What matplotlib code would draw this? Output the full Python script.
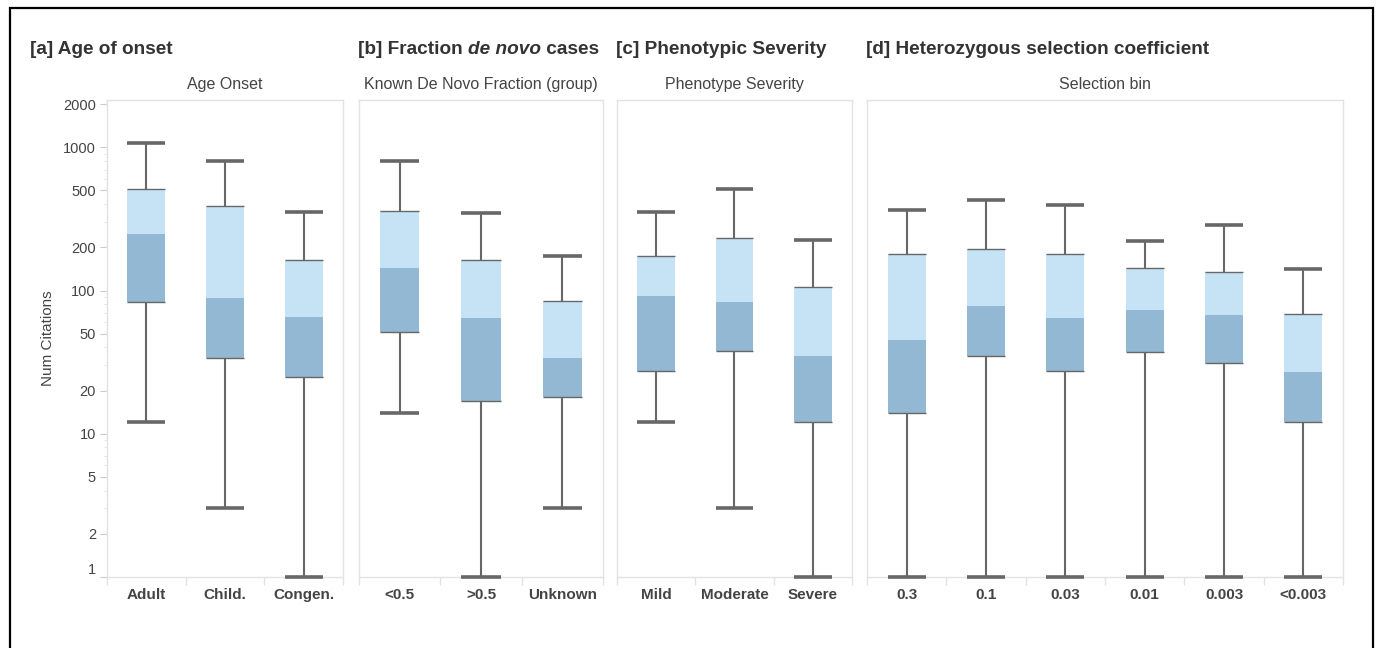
import matplotlib
matplotlib.use("Agg")
import matplotlib.pyplot as plt
from matplotlib.patches import Rectangle
from matplotlib.ticker import LogLocator, NullFormatter, FixedLocator
import numpy as np

plt.rcParams['font.family'] = ['Liberation Sans', 'DejaVu Sans']

# ---------------- data ----------------
titles_prefix = ["[a] Age of onset", "[b] Fraction ", "[c] Phenotypic Severity",
                 "[d] Heterozygous selection coefficient"]
subtitles = ["Age Onset", "Known De Novo Fraction (group)", "Phenotype Severity", "Selection bin"]

cats_a = ["Adult", "Child.", "Congen."]
low_a = [12, 3, 1]
q1_a = [83, 34, 25]
med_a = [248, 89, 65]
q3_a = [512, 387, 163]
high_a = [1070, 804, 355]

cats_b = ["<0.5", ">0.5", "Unknown"]
low_b = [14, 1, 3]
q1_b = [51, 17, 18]
med_b = [144, 64, 34]
q3_b = [359, 164, 84]
high_b = [804, 348, 173]

cats_c = ["Mild", "Moderate", "Severe"]
low_c = [12, 3, 1]
q1_c = [27.4, 38, 12]
med_c = [91, 83, 35]
q3_c = [175, 232, 106]
high_c = [355, 510, 225]

cats_d = ["0.3", "0.1", "0.03", "0.01", "0.003", "<0.003"]
low_d = [1, 1, 1, 1, 1, 1]
q1_d = [14, 35, 27.4, 37, 31, 12]
med_d = [45, 78, 64, 73, 67, 27]
q3_d = [179, 196, 179, 143, 134, 68.5]
high_d = [363, 431, 396, 222, 287, 141]

panels = [
    (cats_a, low_a, q1_a, med_a, q3_a, high_a),
    (cats_b, low_b, q1_b, med_b, q3_b, high_b),
    (cats_c, low_c, q1_c, med_c, q3_c, high_c),
    (cats_d, low_d, q1_d, med_d, q3_d, high_d),
]

# ---------------- style / layout ----------------
W, H = 1379, 648
LIGHT = "#c5e3f5"
DARK = "#92b8d3"
WHISK = "#676767"
FRAME = "#e2e2e2"
TXT = "#444444"
TITLE_C = "#333333"

panel_px = [(107, 343), (359, 603), (617, 852), (867, 1343)]
y_top, y_bot = 100.3, 576.7

fig = plt.figure(figsize=(W / 100, H / 100), dpi=100)

def fx(px):
    return px / W

def fy(py):
    return 1 - py / H

# outer border
fig.patches.append(Rectangle((fx(10), fy(660)), fx(1373) - fx(10), fy(8) - fy(660),
                             transform=fig.transFigure, fill=False, edgecolor="black",
                             linewidth=1.6, clip_on=False))

TFS = 13.7
for i, (cats, low, q1, med, q3, high) in enumerate(panels):
    n = len(cats)
    x0, x1 = panel_px[i]
    ax = fig.add_axes([fx(x0), fy(y_bot), (x1 - x0) / W, (y_bot - y_top) / H])
    ax.set_yscale("log")
    ax.set_ylim(1, 2134)
    ax.set_xlim(-0.5, n - 0.5)
    pos = np.arange(n)
    bw = 0.48
    lower_h = np.array(med) - np.array(q1)
    upper_h = np.array(q3) - np.array(med)
    ax.bar(pos, lower_h, bottom=q1, width=bw, color=DARK, edgecolor="none", zorder=2)
    ax.bar(pos, upper_h, bottom=med, width=bw, color=LIGHT, edgecolor="none", zorder=2)
    ax.hlines(q1, pos - bw / 2, pos + bw / 2, color=WHISK, linewidth=1.0, zorder=3)
    ax.hlines(q3, pos - bw / 2, pos + bw / 2, color=WHISK, linewidth=1.0, zorder=3)
    ax.vlines(pos, low, q1, color=WHISK, linewidth=1.5, zorder=3)
    ax.vlines(pos, q3, high, color=WHISK, linewidth=1.5, zorder=3)
    ax.hlines(low, pos - bw / 2, pos + bw / 2, color=WHISK, linewidth=2.6, zorder=4, clip_on=False)
    ax.hlines(high, pos - bw / 2, pos + bw / 2, color=WHISK, linewidth=2.6, zorder=4)

    for s in ax.spines.values():
        s.set_color(FRAME)
        s.set_linewidth(1.0)

    # x axis
    ax.set_xticks(pos)
    ax.set_xticklabels(cats, fontsize=11, fontweight="bold", color=TXT)
    ax.tick_params(axis="x", which="major", length=0, pad=8)
    ax.xaxis.set_minor_locator(FixedLocator(np.arange(n + 1) - 0.5))
    ax.tick_params(axis="x", which="minor", length=6, color=FRAME, width=1)

    # y axis
    if i == 0:
        yt = [1, 2, 5, 10, 20, 50, 100, 200, 500, 1000, 2000]
        ax.yaxis.set_major_locator(FixedLocator(yt))
        ax.set_yticklabels([str(v) for v in yt], fontsize=10.5, color=TXT)
        ax.yaxis.set_minor_locator(LogLocator(base=10, subs=np.arange(2, 10)))
        ax.yaxis.set_minor_formatter(NullFormatter())
        ax.tick_params(axis="y", which="major", length=5, color="#cccccc", pad=3)
        ax.tick_params(axis="y", which="minor", length=2.5, color="#dddddd")
        for lab in ax.get_yticklabels():
            if lab.get_text() == "1":
                lab.set_verticalalignment("bottom")
        ax.set_ylabel("Num Citations", fontsize=11, color=TXT, labelpad=6)
    else:
        ax.set_yticks([])
        ax.yaxis.set_minor_locator(FixedLocator([]))
        ax.tick_params(axis="y", which="both", length=0, labelleft=False)

    # subtitle
    ax.set_title(subtitles[i], fontsize=11.5, color=TXT, pad=8)

    # panel title
    tx = 30 if i == 0 else x0 - 1
    if i == 1:
        t1 = fig.text(fx(tx), fy(50), "[b] Fraction ", fontsize=TFS, fontweight="bold",
                      color=TITLE_C, va="center", ha="left")
        fig.canvas.draw()
        bb = t1.get_window_extent()
        t2 = fig.text(bb.x1 / W, fy(50), "de novo", fontsize=TFS, fontweight="bold",
                      style="italic", color=TITLE_C, va="center", ha="left")
        bb2 = t2.get_window_extent()
        fig.text(bb2.x1 / W, fy(50), " cases", fontsize=TFS, fontweight="bold",
                 color=TITLE_C, va="center", ha="left")
    else:
        fig.text(fx(tx), fy(50), titles_prefix[i], fontsize=TFS, fontweight="bold",
                 color=TITLE_C, va="center", ha="left")

fig.savefig("out.png", dpi=100)
